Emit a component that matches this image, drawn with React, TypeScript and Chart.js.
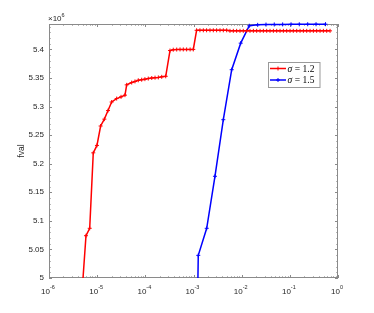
import React, { useEffect, useRef } from "react";
import { Chart, registerables } from "chart.js";

Chart.register(...registerables);

// sigma = 1.2 (red)
const redX = [
  4.8e-6, 5.86e-6, 7.0e-6, 8.3e-6, 9.9e-6, 1.18e-5, 1.41e-5, 1.68e-5, 2.0e-5, 2.54e-5, 3.13e-5, 3.78e-5,
  4.1e-5, 5.21e-5, 6.1e-5, 7.14e-5, 8.4e-5, 9.8e-5, 1.15e-4, 1.36e-4, 1.59e-4, 1.86e-4, 2.19e-4, 2.65e-4,
  3.25e-4, 3.8e-4, 4.48e-4, 5.25e-4, 6.14e-4, 7.2e-4, 8.5e-4, 9.9e-4,
  1.16e-3, 1.36e-3, 1.6e-3, 1.87e-3, 2.2e-3, 2.58e-3, 3.02e-3, 3.55e-3, 4.16e-3, 4.88e-3, 5.72e-3,
  6.71e-3, 7.87e-3, 9.23e-3, 1.08e-2, 1.27e-2, 1.49e-2, 1.75e-2, 2.05e-2, 2.41e-2, 2.82e-2, 3.31e-2,
  3.88e-2, 4.55e-2, 5.34e-2, 6.26e-2, 7.34e-2, 8.61e-2, 0.101, 0.118, 0.139, 0.163, 0.191, 0.224,
  0.263, 0.308, 0.361, 0.424, 0.497, 0.583, 0.684,
];
const redY = [
  4.97, 5.074, 5.087, 5.219, 5.232, 5.266, 5.278, 5.293, 5.308, 5.314, 5.317, 5.32,
  5.338, 5.342, 5.344, 5.346, 5.347, 5.348, 5.349, 5.35, 5.3506, 5.351, 5.352, 5.353,
  5.398, 5.3995, 5.3998, 5.4, 5.4, 5.4, 5.4, 5.4,
  5.4335, 5.4335, 5.4335, 5.4335, 5.4335, 5.4335, 5.4335, 5.4335, 5.4335, 5.4335, 5.4325,
  5.4325, 5.4325, 5.4325, 5.4325, 5.4325, 5.4325, 5.4325, 5.4325, 5.4325, 5.4325, 5.4325,
  5.4325, 5.4325, 5.4325, 5.4325, 5.4325, 5.4325, 5.4325, 5.4325, 5.4325, 5.4325, 5.4325, 5.4325,
  5.4325, 5.4325, 5.4325, 5.4325, 5.4325, 5.4325, 5.4325,
];

// sigma = 1.5 (blue)
const blueX = [
  1.21e-3, 1.256e-3, 1.88e-3, 2.79e-3, 4.16e-3, 6.21e-3, 9.55e-3, 1.44e-2, 2.15e-2, 3.2e-2,
  4.75e-2, 7.1e-2, 0.106, 0.157, 0.235, 0.35, 0.55,
];
const blueY = [
  4.95, 5.0396, 5.087, 5.178, 5.277, 5.3645, 5.411, 5.4414, 5.443, 5.4435,
  5.4437, 5.4438, 5.4439, 5.444, 5.4441, 5.4441, 5.4442,
];

const seriesNames = ["1.2", "1.5"];
const seriesColors = ["#ff0000", "#0000ff"];

const xTicks = [1e-6, 1e-5, 1e-4, 1e-3, 1e-2, 1e-1, 1];
const xTickExps = ["-6", "-5", "-4", "-3", "-2", "-1", "0"];
const yTicks = [5, 5.05, 5.1, 5.15, 5.2, 5.25, 5.3, 5.35, 5.4];
const yTickLabels = ["5", "5.05", "5.1", "5.15", "5.2", "5.25", "5.3", "5.35", "5.4"];
const yMin = 5;
const yMax = 5.4445;

const TEXT = "#262626";
const AXIS = "#8a8a8a";
const SANS = "'Liberation Sans', Arial, sans-serif";
const SERIF = "'Liberation Serif', 'DejaVu Serif', serif";

const framePlugin = {
  id: "frame",
  beforeDatasetsDraw(chart: any) {
    const ctx = chart.ctx as CanvasRenderingContext2D;
    const a = chart.chartArea;
    const xs = chart.scales.x;
    const ys = chart.scales.y;
    ctx.save();
    ctx.strokeStyle = AXIS;
    ctx.lineWidth = 1;
    ctx.strokeRect(a.left + 0.5, a.top + 0.5, a.right - a.left - 1, a.bottom - a.top - 1);

    const major = 3;
    const minor = 1.6;
    ctx.beginPath();
    for (let d = 0; d < xTicks.length; d++) {
      const px = Math.round(xs.getPixelForValue(xTicks[d])) + 0.5;
      ctx.moveTo(px, a.bottom);
      ctx.lineTo(px, a.bottom - major);
      ctx.moveTo(px, a.top);
      ctx.lineTo(px, a.top + major);
      if (d < xTicks.length - 1) {
        for (let m = 2; m <= 9; m++) {
          const p = Math.round(xs.getPixelForValue(xTicks[d] * m)) + 0.5;
          ctx.moveTo(p, a.bottom);
          ctx.lineTo(p, a.bottom - minor);
          ctx.moveTo(p, a.top);
          ctx.lineTo(p, a.top + minor);
        }
      }
    }
    for (let i = 0; i <= 44; i++) {
      const v = yMin + i * 0.01;
      if (v > yMax) break;
      const py = Math.round(ys.getPixelForValue(v)) + 0.5;
      const len = i % 5 === 0 ? major : minor;
      ctx.moveTo(a.left, py);
      ctx.lineTo(a.left + len, py);
      ctx.moveTo(a.right, py);
      ctx.lineTo(a.right - len, py);
    }
    ctx.stroke();

    ctx.fillStyle = TEXT;
    ctx.textBaseline = "alphabetic";
    ctx.textAlign = "left";
    for (let d = 0; d < xTicks.length; d++) {
      const px = xs.getPixelForValue(xTicks[d]);
      ctx.font = `8px ${SANS}`;
      const w1 = ctx.measureText("10").width;
      ctx.font = `5.5px ${SANS}`;
      const w2 = ctx.measureText(xTickExps[d]).width;
      const x0 = px - (w1 + w2) / 2 - 1;
      ctx.font = `8px ${SANS}`;
      ctx.fillText("10", x0, 293.5);
      ctx.font = `5.5px ${SANS}`;
      ctx.fillText(xTickExps[d], x0 + w1, 288.5);
    }

    ctx.font = `8px ${SANS}`;
    ctx.fillText("\u00d710", a.left - 1, 21);
    const wx = ctx.measureText("\u00d710").width;
    ctx.font = `5.5px ${SANS}`;
    ctx.fillText("6", a.left - 1 + wx, 16.5);

    ctx.save();
    ctx.translate(23.5, (a.top + a.bottom) / 2);
    ctx.rotate(-Math.PI / 2);
    ctx.textAlign = "center";
    ctx.font = `8.5px ${SANS}`;
    ctx.fillText("fval", 0, 0);
    ctx.restore();
    ctx.restore();
  },
  afterDatasetsDraw(chart: any) {
    const ctx = chart.ctx as CanvasRenderingContext2D;
    ctx.save();
    const bx = 268.5, by = 62.5, bw = 51.5, bh = 25;
    ctx.fillStyle = "#ffffff";
    ctx.fillRect(bx, by, bw, bh);
    ctx.strokeStyle = "#9a9a9a";
    ctx.lineWidth = 1;
    ctx.strokeRect(bx, by, bw, bh);
    const rows = [68.5, 80];
    for (let i = 0; i < 2; i++) {
      const yy = rows[i];
      ctx.strokeStyle = seriesColors[i];
      ctx.lineWidth = 1.5;
      ctx.beginPath();
      ctx.moveTo(270, yy);
      ctx.lineTo(286, yy);
      ctx.stroke();
      ctx.lineWidth = 1;
      ctx.beginPath();
      ctx.moveTo(278, yy - 2);
      ctx.lineTo(278, yy + 2);
      ctx.moveTo(276, yy);
      ctx.lineTo(280, yy);
      ctx.stroke();
      ctx.fillStyle = "#000000";
      ctx.textAlign = "left";
      ctx.textBaseline = "alphabetic";
      ctx.font = `italic 9.5px ${SERIF}`;
      ctx.fillText("\u03c3", 287.5, yy + 3);
      const ws = ctx.measureText("\u03c3").width;
      ctx.font = `9.5px ${SERIF}`;
      ctx.fillText("=", 287.5 + ws + 2.5, yy + 3);
      const we = ctx.measureText("=").width;
      ctx.fillText(seriesNames[i], 287.5 + ws + 2.5 + we + 2.5, yy + 3);
    }
    ctx.restore();
  },
};

export default function App() {
  const ref = useRef<HTMLCanvasElement>(null);
  useEffect(() => {
    if (!ref.current) return;
    const clip = { left: 3, top: 4, right: 3, bottom: 0 };
    const chart = new Chart(ref.current, {
      type: "line",
      data: {
        datasets: [
          {
            label: "\u03c3 = " + seriesNames[0],
            data: redX.map((x, i) => ({ x, y: redY[i] })),
            borderColor: seriesColors[0],
            backgroundColor: seriesColors[0],
            borderWidth: 1.5,
            pointStyle: "cross",
            pointRadius: 2,
            pointBorderWidth: 1,
            tension: 0,
            clip,
          },
          {
            label: "\u03c3 = " + seriesNames[1],
            data: blueX.map((x, i) => ({ x, y: blueY[i] })),
            borderColor: seriesColors[1],
            backgroundColor: seriesColors[1],
            borderWidth: 1.5,
            pointStyle: "cross",
            pointRadius: 2,
            pointBorderWidth: 1,
            tension: 0,
            clip,
          },
        ],
      },
      options: {
        animation: false,
        responsive: false,
        devicePixelRatio: 1,
        layout: { padding: { left: 0, top: 24, right: 36, bottom: 0 } },
        plugins: { legend: { display: false }, tooltip: { enabled: false } },
        scales: {
          x: {
            type: "logarithmic",
            min: 1e-6,
            max: 1,
            afterBuildTicks: (s: any) => {
              s.ticks = xTicks.map((v) => ({ value: v }));
            },
            afterFit: (s: any) => {
              s.height = 35;
            },
            ticks: { display: false },
            grid: { display: false, drawTicks: false },
            border: { display: false },
          },
          y: {
            type: "linear",
            min: yMin,
            max: yMax,
            afterBuildTicks: (s: any) => {
              s.ticks = yTicks.map((v) => ({ value: v }));
            },
            afterFit: (s: any) => {
              s.width = 49;
            },
            ticks: {
              padding: 5,
              color: TEXT,
              font: { family: SANS, size: 8 },
              callback: (_v: any, i: number) => yTickLabels[i],
            },
            grid: { display: false, drawTicks: false },
            border: { display: false },
          },
        },
      },
      plugins: [framePlugin],
    } as any);
    return () => chart.destroy();
  }, []);
  return (
    <div style={{ position: "fixed", left: 0, top: 0, width: 374, height: 313, background: "#fff" }}>
      <canvas ref={ref} width={374} height={313} style={{ width: 374, height: 313, display: "block" }} />
    </div>
  );
}
